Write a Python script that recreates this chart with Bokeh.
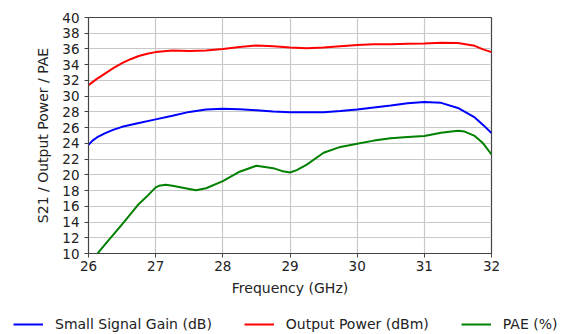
from bokeh.plotting import figure
from bokeh.models import Legend, LegendItem, Range1d, FixedTicker
from bokeh.layouts import column
from bokeh.embed import file_html
from bokeh.resources import INLINE

# Data
freq_gain = [26.0, 26.06, 26.125, 26.25, 26.375, 26.5, 26.75, 27.0, 27.25, 27.5, 27.75, 28.0, 28.25, 28.5, 28.75, 29.0, 29.25, 29.5, 29.75, 30.0, 30.25, 30.5, 30.75, 31.0, 31.25, 31.5, 31.75, 31.875, 32.0]
gain = [23.8, 24.35, 24.75, 25.3, 25.75, 26.1, 26.6, 27.05, 27.5, 28.0, 28.3, 28.4, 28.35, 28.2, 28.05, 27.95, 27.95, 27.95, 28.1, 28.3, 28.55, 28.8, 29.1, 29.25, 29.15, 28.5, 27.3, 26.35, 25.3]

freq_pout = [26.0, 26.125, 26.25, 26.375, 26.5, 26.625, 26.75, 26.875, 27.0, 27.25, 27.5, 27.75, 28.0, 28.25, 28.5, 28.75, 29.0, 29.25, 29.5, 29.75, 30.0, 30.25, 30.5, 30.75, 31.0, 31.25, 31.5, 31.75, 31.875, 32.0]
pout = [31.4, 32.2, 32.9, 33.6, 34.2, 34.7, 35.1, 35.4, 35.6, 35.8, 35.75, 35.8, 36.0, 36.25, 36.45, 36.35, 36.2, 36.1, 36.2, 36.35, 36.5, 36.6, 36.6, 36.65, 36.7, 36.8, 36.75, 36.4, 35.95, 35.6]

freq_pae = [26.0, 26.25, 26.5, 26.75, 26.875, 27.0, 27.05, 27.15, 27.25, 27.5, 27.6, 27.75, 28.0, 28.25, 28.5, 28.75, 28.875, 29.0, 29.1, 29.25, 29.5, 29.75, 30.0, 30.25, 30.5, 30.75, 31.0, 31.25, 31.5, 31.6, 31.75, 31.875, 32.0]
pae = [8.6, 11.2, 13.7, 16.3, 17.3, 18.4, 18.6, 18.75, 18.6, 18.2, 18.05, 18.3, 19.2, 20.4, 21.15, 20.85, 20.5, 20.3, 20.6, 21.3, 22.8, 23.55, 23.95, 24.35, 24.65, 24.8, 24.95, 25.35, 25.6, 25.5, 24.95, 24.0, 22.6]

series_labels = ["Small Signal Gain (dB)", "Output Power (dBm)", "PAE (%)"]
series_colors = ["blue", "red", "green"]

x_ticks = [26, 27, 28, 29, 30, 31, 32]
y_ticks = list(range(10, 41, 2))

FONT = "DejaVu Sans"

p = figure(width=565, height=300, output_backend="svg", toolbar_location=None,
           x_range=Range1d(26, 32), y_range=Range1d(10, 40),
           min_border_left=88, min_border_right=74, min_border_top=17, min_border_bottom=47)
p.frame_align = False

p.outline_line_color = "#444444"
p.outline_line_width = 1.2

for ax in (p.xaxis[0], p.yaxis[0]):
    ax.axis_line_color = "#444444"
    ax.major_tick_line_color = "#444444"
    ax.major_tick_out = 4
    ax.major_tick_in = 0
    ax.minor_tick_line_color = None
    ax.major_label_text_font = FONT
    ax.major_label_text_font_size = "13.5px"
    ax.major_label_text_color = "#222222"
    ax.axis_label_text_font = FONT
    ax.axis_label_text_font_size = "14px"
    ax.axis_label_text_font_style = "normal"
    ax.axis_label_text_color = "#222222"

p.xaxis.ticker = FixedTicker(ticks=x_ticks)
p.yaxis.ticker = FixedTicker(ticks=y_ticks)
p.xaxis.axis_label = "Frequency (GHz)"
p.yaxis.axis_label = "S21 / Output Power / PAE"
p.xaxis.major_label_standoff = 3
p.xaxis.axis_label_standoff = 6
p.yaxis.major_label_standoff = 5
p.yaxis.axis_label_standoff = 8

p.xgrid.ticker = FixedTicker(ticks=x_ticks)
p.ygrid.ticker = FixedTicker(ticks=y_ticks)
p.grid.grid_line_color = "#c8c8c8"
p.grid.grid_line_width = 1.2

all_x = [freq_gain, freq_pout, freq_pae]
all_y = [gain, pout, pae]
for xs, ys, c in zip(all_x, all_y, series_colors):
    p.line(xs, ys, line_color=c, line_width=2, line_join="round")

# Legend strip below the chart (series drawn out of view, used only as legend glyphs)
q = figure(width=565, height=34, output_backend="svg", toolbar_location=None,
           x_axis_type=None, y_axis_type=None, min_border=0,
           x_range=Range1d(0, 1), y_range=Range1d(0, 1))
q.frame_align = False
q.outline_line_color = None
q.grid.visible = False
items = []
for xs, ys, lab, c in zip(all_x, all_y, series_labels, series_colors):
    r = q.line(xs, ys, line_color=c, line_width=2)
    items.append(LegendItem(label=lab, renderers=[r]))
legend = Legend(items=items, orientation="horizontal", location=(13, 0),
                border_line_color=None, background_fill_alpha=0,
                glyph_width=30, label_standoff=12, spacing=32,
                label_text_font=FONT, label_text_font_size="14px", label_text_color="#222222",
                padding=0, margin=0)
q.add_layout(legend, "center")

open("out.html", "w").write(file_html(column(p, q, spacing=0), INLINE))
